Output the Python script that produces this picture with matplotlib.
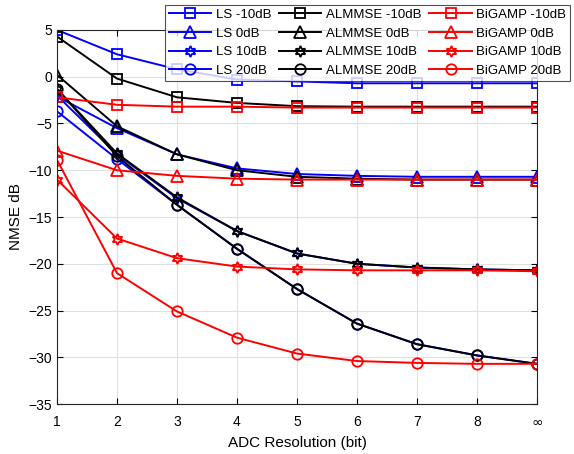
import numpy as np
import matplotlib
matplotlib.use('Agg')
import matplotlib.pyplot as plt

plt.rcParams['font.family'] = ['Liberation Sans', 'DejaVu Sans']

# ---------------------------------------------------------------------------
# Data (NMSE in dB vs ADC bits; last point is infinite resolution)
# ---------------------------------------------------------------------------
bits = [1, 2, 3, 4, 5, 6, 7, 8, 9]
xtick_labels = ['1', '2', '3', '4', '5', '6', '7', '8', r'$\infty$']

ls_m10 = [5.0, 2.4, 0.8, -0.3, -0.5, -0.7, -0.7, -0.7, -0.7]
ls_0 = [-2.1, -5.5, -8.3, -9.8, -10.4, -10.6, -10.7, -10.7, -10.7]
ls_10 = [-2.0, -8.3, -13.0, -16.5, -18.9, -20.0, -20.4, -20.6, -20.7]
ls_20 = [-3.7, -8.8, -13.7, -18.4, -22.7, -26.4, -28.6, -29.8, -30.7]

al_m10 = [4.3, -0.2, -2.2, -2.8, -3.15, -3.2, -3.2, -3.2, -3.2]
al_0 = [0.2, -5.3, -8.3, -10.0, -10.7, -10.9, -11.0, -11.0, -11.0]
al_10 = [-1.3, -8.2, -12.9, -16.5, -18.9, -20.0, -20.4, -20.6, -20.7]
al_20 = [-1.3, -8.5, -13.7, -18.4, -22.7, -26.4, -28.6, -29.8, -30.7]

bg_m10 = [-2.2, -3.0, -3.2, -3.2, -3.3, -3.3, -3.3, -3.3, -3.3]
bg_0 = [-7.9, -10.0, -10.6, -10.9, -11.0, -11.0, -11.0, -11.0, -11.0]
bg_10 = [-11.0, -17.3, -19.4, -20.3, -20.6, -20.7, -20.7, -20.7, -20.8]
bg_20 = [-8.9, -21.0, -25.1, -27.9, -29.6, -30.4, -30.6, -30.7, -30.7]

snr_labels = ['-10dB', '0dB', '10dB', '20dB']
# square, triangle, hexagram, circle (MATLAB-style marker set)
markers = ['s', '^', (6, 1, 0), 'o']
msizes = [6.5, 8.5, 8, 7.5]

methods = [
    ('LS', 'blue', [ls_m10, ls_0, ls_10, ls_20]),
    ('ALMMSE', 'black', [al_m10, al_0, al_10, al_20]),
    ('BiGAMP', 'red', [bg_m10, bg_0, bg_10, bg_20]),
]

# ---------------------------------------------------------------------------
# Figure
# ---------------------------------------------------------------------------
fig = plt.figure(figsize=(5.74, 4.54), dpi=100)
ax = fig.add_axes([0.0993, 0.110, 0.8362, 0.824])

handles = []
for name, color, series in methods:
    for lab, mk, ms, y in zip(snr_labels, markers, msizes, series):
        h, = ax.plot(bits, y, color=color, marker=mk, markersize=ms,
                     markerfacecolor='none', markeredgecolor=color,
                     markeredgewidth=1.3, linewidth=1.4,
                     label=f'{name} {lab}')
        handles.append(h)

ax.set_xlim(1, 9)
ax.set_ylim(-35, 5)
ax.set_xticks(bits)
ax.set_xticklabels(xtick_labels)
ax.set_yticks(np.arange(-35, 6, 5))
ax.tick_params(direction='in', top=True, right=True, labelsize=10,
               length=4, width=0.8)
ax.tick_params(axis='x', pad=8)
ax.grid(True, color='#e0e0e0', linewidth=0.8)
ax.set_axisbelow(True)
for sp in ax.spines.values():
    sp.set_linewidth(0.8)
    sp.set_color('#262626')

ax.set_xlabel('ADC Resolution (bit)', fontsize=11, labelpad=5)
ax.set_ylabel('NMSE dB', fontsize=11)

leg = fig.legend(handles=handles, ncol=3, loc='upper right',
                 bbox_to_anchor=(0.998, 0.995), fontsize=9.5,
                 frameon=True, fancybox=False, edgecolor='#262626',
                 handlelength=3.2, columnspacing=0.6, handletextpad=0.35,
                 labelspacing=0.48, borderpad=0.3, borderaxespad=0.2)
leg.get_frame().set_linewidth(0.8)

fig.savefig('out.png', dpi=100)
plt.close(fig)
